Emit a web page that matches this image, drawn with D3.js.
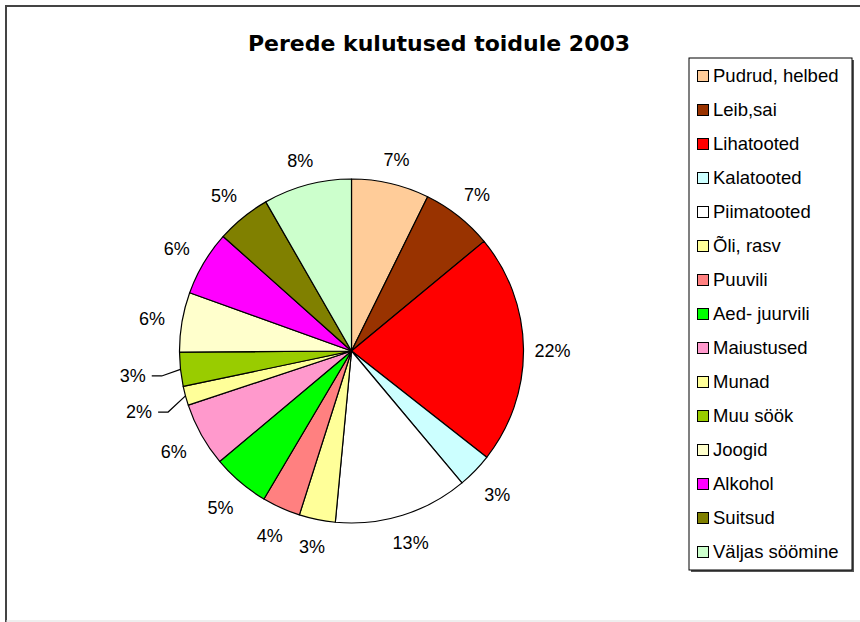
<!DOCTYPE html>
<html>
<head>
<meta charset="utf-8">
<script src="https://cdn.jsdelivr.net/npm/d3@7"></script>
<style>
  html, body { margin: 0; padding: 0; background: #fff; }
  svg { display: block; }
</style>
</head>
<body>
<div id="chart"></div>
<script>
// Kategooriad ja osakaalud (loetud jooniselt, %)
const categories = [
  "Pudrud, helbed", "Leib,sai", "Lihatooted", "Kalatooted", "Piimatooted",
  "Õli, rasv", "Puuvili", "Aed- juurvili", "Maiustused", "Munad",
  "Muu söök", "Joogid", "Alkohol", "Suitsud", "Väljas söömine"
];
const shares = [7.3, 6.7, 21.6, 3.3, 12.6, 3.4, 3.6, 5.4, 6.0, 1.8, 3.2, 5.6, 6.1, 5.1, 8.3];
const colors = [
  "#FFCC99", "#993300", "#FF0000", "#CCFFFF", "#FFFFFF",
  "#FFFF99", "#FF8080", "#00FF00", "#FF99CC", "#FFFF99",
  "#99CC00", "#FFFFCC", "#FF00FF", "#808000", "#CCFFCC"
];
const title = "Perede kulutused toidule 2003";
const leaderSlices = ["Munad", "Muu söök"];

const W = 860, H = 622;
const cx = 351.5, cy = 351, radius = 172;
const labelFont = "'Liberation Sans', Arial, sans-serif";

const data = categories.map((name, i) => ({ name, value: shares[i], color: colors[i] }));
const total = d3.sum(shares);
const fmt = d3.format(".0%");

const svg = d3.select("#chart").append("svg")
  .attr("width", W)
  .attr("height", H);

svg.append("rect").attr("width", W).attr("height", H).attr("fill", "#fff");

// Raam
svg.append("path")
  .attr("d", `M6,${H} L6,6 L${W + 2},6`)
  .attr("fill", "none")
  .attr("stroke", "#444")
  .attr("stroke-width", 2);
svg.append("line")
  .attr("x1", 6).attr("x2", W).attr("y1", 621).attr("y2", 621)
  .attr("stroke", "#ddd").attr("stroke-width", 1);

// Pealkiri
svg.append("text")
  .attr("x", 439)
  .attr("y", 51)
  .attr("text-anchor", "middle")
  .attr("font-family", "'DejaVu Sans', Verdana, sans-serif")
  .attr("font-weight", "bold")
  .attr("font-size", "22px")
  .text(title);

// Sektordiagramm
const pie = d3.pie().sort(null).value(d => d.value);
const arcs = pie(data);
const arc = d3.arc().innerRadius(0).outerRadius(radius);

const g = svg.append("g").attr("transform", `translate(${cx},${cy})`);

g.selectAll("path.slice")
  .data(arcs)
  .enter()
  .append("path")
  .attr("class", "slice")
  .attr("d", arc)
  .attr("fill", d => d.data.color)
  .attr("stroke", "#000")
  .attr("stroke-width", 1.2)
  .attr("stroke-linejoin", "round");

// Protsendisildid
const labelW = 30, labelH = 18;
arcs.forEach(d => {
  const a = (d.startAngle + d.endAngle) / 2;
  const s = Math.sin(a), c = -Math.cos(a);
  const txt = fmt(d.data.value / total);
  let lx, ly;
  if (leaderSlices.includes(d.data.name)) {
    const r = radius + 48;
    lx = r * s; ly = r * c + Math.abs(c) * 14;
    const ex = radius * s, ey = radius * c;
    const tr = lx + 17;
    g.append("polyline")
      .attr("points", [[ex, ey], [tr + 12, ly], [tr + 2, ly]].map(p => p.join(",")).join(" "))
      .attr("fill", "none")
      .attr("stroke", "#000")
      .attr("stroke-width", 1.2);
  } else {
    const r = radius + 14 + Math.abs(s) * labelW / 2 + Math.abs(c) * labelH / 2;
    lx = r * s; ly = r * c + 2;
  }
  g.append("text")
    .attr("x", lx)
    .attr("y", ly)
    .attr("dy", "0.35em")
    .attr("text-anchor", "middle")
    .attr("font-family", labelFont)
    .attr("font-size", "18px")
    .attr("fill", "#000")
    .text(txt);
});

// Legend
const legX = 689, legY = 58, legW = 163, legH = 512;
svg.append("rect")
  .attr("x", legX + 2).attr("y", legY + 2)
  .attr("width", legW).attr("height", legH)
  .attr("fill", "#555");
svg.append("rect")
  .attr("x", legX).attr("y", legY)
  .attr("width", legW).attr("height", legH)
  .attr("fill", "#fff")
  .attr("stroke", "#000")
  .attr("stroke-width", 1);

const legendY = d3.scalePoint()
  .domain(categories)
  .range([76, 552]);

const items = svg.selectAll("g.legend-item")
  .data(data)
  .enter()
  .append("g")
  .attr("class", "legend-item")
  .attr("transform", d => `translate(0,${legendY(d.name)})`);

items.append("rect")
  .attr("x", 697.5).attr("y", -5.5)
  .attr("width", 11).attr("height", 11)
  .attr("fill", d => d.color)
  .attr("stroke", "#000")
  .attr("stroke-width", 1);

items.append("text")
  .attr("x", 713)
  .attr("y", 0)
  .attr("dy", "0.35em")
  .attr("font-family", labelFont)
  .attr("font-size", "18.5px")
  .attr("fill", "#000")
  .text(d => d.name);
</script>
</body>
</html>
